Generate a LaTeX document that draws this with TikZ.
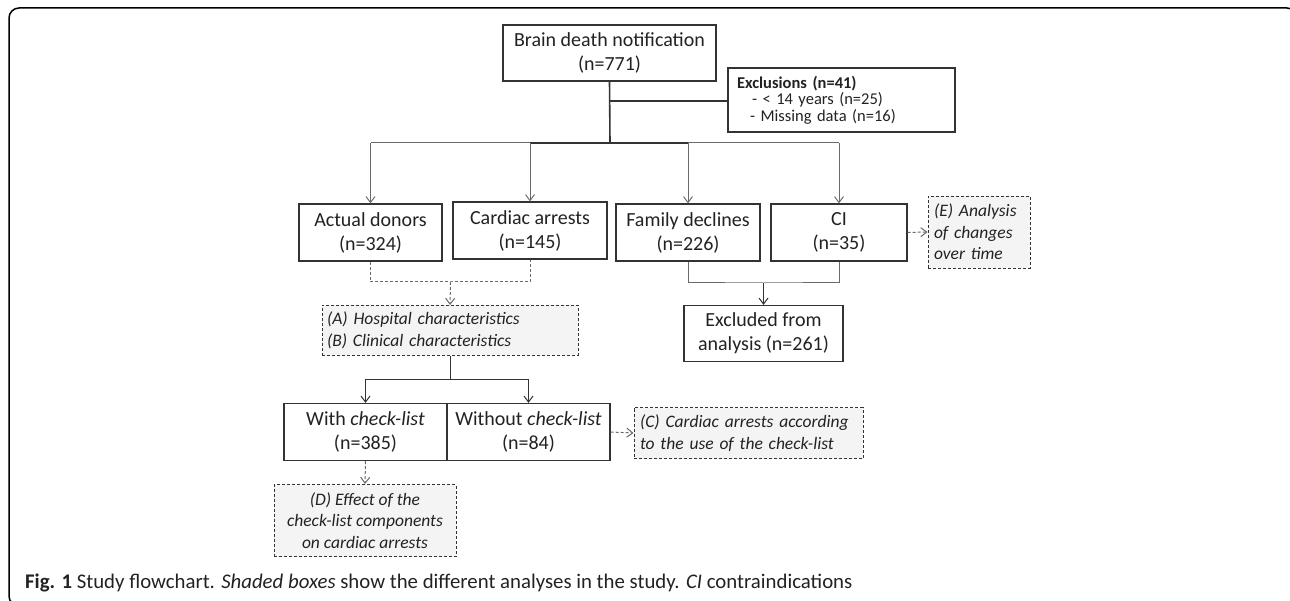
\documentclass[tikz,border=0pt]{standalone}
\usepackage{fontspec}
\setmainfont{Carlito}
\usetikzlibrary{arrows.meta,positioning,calc}
\definecolor{boxline}{HTML}{333333}
\definecolor{linkgray}{HTML}{6A6A6A}
\definecolor{shadefill}{HTML}{F4F4F4}
\definecolor{textgray}{HTML}{222222}
\tikzset{
  flowbox/.style={draw=boxline, line width=1.2pt, fill=white, align=center, inner sep=0pt,
    text=textgray, font=\fontsize{20}{24}\selectfont},
  shadebox/.style={draw=boxline, line width=0.9pt, dash pattern=on 3pt off 2pt, fill=shadefill,
    inner sep=0pt, text=textgray, font=\fontsize{17.5}{21.5}\selectfont\itshape},
  link/.style={draw=linkgray, line width=1pt},
  darklink/.style={draw=boxline, line width=1.6pt},
  arr/.style={link, -{Straight Barb[length=6pt,width=9pt]}},
  dashlink/.style={link, dash pattern=on 3pt off 2pt},
  dasharr/.style={dashlink, -{Straight Barb[length=6pt,width=9pt]}}
}
\begin{document}
\begin{tikzpicture}[x=1pt,y=-1pt]
  \useasboundingbox (0,0) rectangle (1290,601);
  \clip (0,0) rectangle (1290,601);
  % outer frame
  \draw[line width=1.5pt, rounded corners=10pt] (9,8) rectangle (1297,606);

  % top of the flow
  \node[flowbox, minimum width=213pt, minimum height=56pt] (notif) at (609.5,53)
    {Brain death notification\\(n=771)};
  \node[flowbox, minimum width=227pt, minimum height=64pt, text width=209pt, align=left,
    inner xsep=9pt, font=\fontsize{16.5}{16.5}\selectfont] (excl) at (841.5,100)
    {\textbf{Exclusions (n=41)}\\\hspace*{15pt}- < 14 years (n=25)\\\hspace*{13pt}- Missing data (n=16)};

  % second row
  \node[flowbox, minimum width=143pt, minimum height=57pt] (donors) at (370.5,232.5)
    {Actual donors\\(n=324)};
  \node[flowbox, minimum width=154pt, minimum height=57pt] (arrests) at (530,230.5)
    {Cardiac arrests\\(n=145)};
  \node[flowbox, minimum width=144pt, minimum height=57pt] (declines) at (688,232.5)
    {Family declines\\(n=226)};
  \node[flowbox, minimum width=136pt, minimum height=57pt] (ci) at (839,232.5)
    {CI\\(n=35)};
  \node[shadebox, minimum width=102pt, minimum height=72pt, text width=90pt, inner xsep=6pt,
    align=left] (anaE) at (979,232) {(E) Analysis\\of changes\\over time};

  % third row
  \node[shadebox, minimum width=256pt, minimum height=50pt, text width=246pt, inner xsep=5pt,
    align=left] (anaAB) at (450,330.5) {(A) Hospital characteristics\\(B) Clinical characteristics};
  \node[flowbox, minimum width=159pt, minimum height=56pt] (excluded) at (763.5,333.5)
    {Excluded from\\analysis (n=261)};

  % fourth row
  \node[flowbox, minimum width=163pt, minimum height=57pt] (withcl) at (365.5,432)
    {With \textit{check-list}\\(n=385)};
  \node[flowbox, minimum width=163pt, minimum height=57pt] (withoutcl) at (528.5,432)
    {Without \textit{check-list}\\(n=84)};
  \node[shadebox, minimum width=229pt, minimum height=51pt, text width=217pt, inner xsep=6pt,
    align=left] (anaC) at (748.5,433) {(C) Cardiac arrests according\\to the use of the check-list};
  \node[shadebox, minimum width=182pt, minimum height=72pt, align=center] (anaD) at (365,520.5)
    {(D) Effect of the\\check-list components\\on cardiac arrests};

  % connectors
  \coordinate (bus) at (610,143);
  \coordinate (exbranch) at (610,101);
  \coordinate (abjoin) at (450.5,282);
  \coordinate (exjoin) at (763.5,283);
  \coordinate (cljoin) at (450,379);

  \draw[link] (donors.north |- bus) -- (ci.north |- bus);
  \draw[darklink] (arrests.north |- bus) -- (declines.north |- bus);
  \draw[darklink] (notif.south) -- (bus);
  \draw[darklink, line width=1.3pt] (exbranch) -- (excl.west |- exbranch);
  \foreach \target in {donors,arrests,declines,ci}
    \draw[arr] (\target.north |- bus) -- (\target.north);

  \draw[dashlink] (donors.south) |- (abjoin) -| (arrests.south);
  \draw[dasharr] (abjoin) -- (anaAB.north);
  \draw[link] (declines.south) |- (exjoin) -| (ci.south);
  \draw[arr, draw=boxline] (exjoin) -- (excluded.north);
  \draw[dasharr] (ci.east) -- (anaE.west);

  \draw[link, draw=boxline] (anaAB.south) -- (cljoin);
  \draw[arr, draw=boxline] (cljoin) -| (withcl.north);
  \draw[arr, draw=boxline] (cljoin) -| (withoutcl.north);
  \draw[dasharr] (withoutcl.east) -- (anaC.west);
  \draw[dasharr] (withcl.south) -- (anaD.north);

  % caption
  \node[anchor=west, inner sep=0pt, text=textgray, font=\fontsize{20.8}{24}\selectfont] (caption) at (25,583)
    {\textbf{Fig. 1} Study flowchart. \textit{Shaded boxes} show the different analyses in the study. \textit{CI} contraindications};
\end{tikzpicture}
\end{document}
